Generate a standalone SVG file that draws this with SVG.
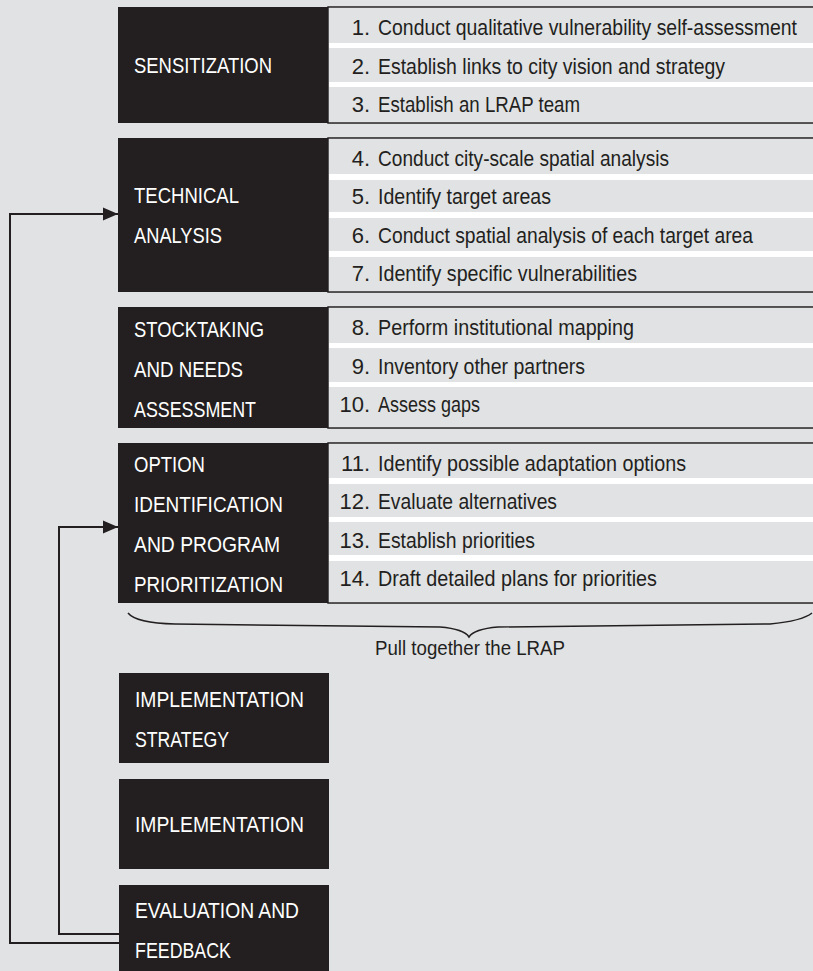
<svg xmlns="http://www.w3.org/2000/svg" width="813" height="971" viewBox="0 0 813 971">
<style>
  .bg { fill: #e1e2e4; }
  .dark { fill: #231f20; }
  .list { fill: #ffffff; stroke: #231f20; stroke-width: 1.5; }
  .row { fill: #e1e2e4; }
  .lbl { font-family: 'Liberation Sans Narrow', 'Liberation Sans', Arial, sans-serif; font-size: 22px; fill: #ffffff; }
  .num { font-family: 'Liberation Sans Narrow', 'Liberation Sans', Arial, sans-serif; font-size: 22px; fill: #231f20; text-anchor: end; }
  .txt { font-family: 'Liberation Sans Narrow', 'Liberation Sans', Arial, sans-serif; font-size: 22px; fill: #231f20; }
  .cap { font-family: 'Liberation Sans Narrow', 'Liberation Sans', Arial, sans-serif; font-size: 21px; fill: #231f20; }
  .conn { fill: none; stroke: #231f20; stroke-width: 2; }
  .brace { fill: none; stroke: #231f20; stroke-width: 1.5; }
</style>
<defs>
  <marker id="arr" markerWidth="16" markerHeight="14" refX="15" refY="7" orient="auto" markerUnits="userSpaceOnUse">
    <path d="M0,0.5 L15,7 L0,13.5 Z" fill="#231f20"/>
  </marker>
</defs>
<rect class="bg" x="0" y="0" width="813" height="971"/>

<g id="sensitization">
  <rect class="dark" x="118" y="7" width="210" height="116"/>
  <text class="lbl" x="134" y="73" textLength="138" lengthAdjust="spacingAndGlyphs">SENSITIZATION</text>
  <rect class="list" x="328" y="7" width="492" height="116"/>
  <rect class="row" x="329" y="8" width="490" height="35"/>
  <rect class="row" x="329" y="48" width="490" height="34"/>
  <rect class="row" x="329" y="87" width="490" height="35"/>
  <text class="num" x="370" y="35">1.</text>
  <text class="txt" x="378" y="35" textLength="419" lengthAdjust="spacingAndGlyphs">Conduct qualitative vulnerability self-assessment</text>
  <text class="num" x="370" y="74">2.</text>
  <text class="txt" x="378" y="74" textLength="347" lengthAdjust="spacingAndGlyphs">Establish links to city vision and strategy</text>
  <text class="num" x="370" y="112">3.</text>
  <text class="txt" x="378" y="112" textLength="202" lengthAdjust="spacingAndGlyphs">Establish an LRAP team</text>
</g>

<g id="technical-analysis">
  <rect class="dark" x="118" y="138" width="210" height="154"/>
  <text class="lbl" x="134" y="203" textLength="105" lengthAdjust="spacingAndGlyphs">TECHNICAL</text>
  <text class="lbl" x="134" y="243" textLength="88" lengthAdjust="spacingAndGlyphs">ANALYSIS</text>
  <rect class="list" x="328" y="138" width="492" height="154"/>
  <rect class="row" x="329" y="139" width="490" height="35"/>
  <rect class="row" x="329" y="180" width="490" height="32"/>
  <rect class="row" x="329" y="218" width="490" height="33"/>
  <rect class="row" x="329" y="257" width="490" height="34"/>
  <text class="num" x="370" y="166">4.</text>
  <text class="txt" x="378" y="166" textLength="291" lengthAdjust="spacingAndGlyphs">Conduct city-scale spatial analysis</text>
  <text class="num" x="370" y="204">5.</text>
  <text class="txt" x="378" y="204" textLength="173" lengthAdjust="spacingAndGlyphs">Identify target areas</text>
  <text class="num" x="370" y="243">6.</text>
  <text class="txt" x="378" y="243" textLength="375" lengthAdjust="spacingAndGlyphs">Conduct spatial analysis of each target area</text>
  <text class="num" x="370" y="281">7.</text>
  <text class="txt" x="378" y="281" textLength="259" lengthAdjust="spacingAndGlyphs">Identify specific vulnerabilities</text>
</g>

<g id="stocktaking">
  <rect class="dark" x="118" y="307" width="210" height="121"/>
  <text class="lbl" x="134" y="337" textLength="130" lengthAdjust="spacingAndGlyphs">STOCKTAKING</text>
  <text class="lbl" x="134" y="377" textLength="109" lengthAdjust="spacingAndGlyphs">AND NEEDS</text>
  <text class="lbl" x="134" y="417" textLength="122" lengthAdjust="spacingAndGlyphs">ASSESSMENT</text>
  <rect class="list" x="328" y="307" width="492" height="121"/>
  <rect class="row" x="329" y="308" width="490" height="35"/>
  <rect class="row" x="329" y="348" width="490" height="34"/>
  <rect class="row" x="329" y="387" width="490" height="40"/>
  <text class="num" x="370" y="335">8.</text>
  <text class="txt" x="378" y="335" textLength="256" lengthAdjust="spacingAndGlyphs">Perform institutional mapping</text>
  <text class="num" x="370" y="374">9.</text>
  <text class="txt" x="378" y="374" textLength="207" lengthAdjust="spacingAndGlyphs">Inventory other partners</text>
  <text class="num" x="370" y="412">10.</text>
  <text class="txt" x="378" y="412" textLength="102" lengthAdjust="spacingAndGlyphs">Assess gaps</text>
</g>

<g id="option-identification">
  <rect class="dark" x="118" y="443" width="210" height="160"/>
  <text class="lbl" x="134" y="472" textLength="71" lengthAdjust="spacingAndGlyphs">OPTION</text>
  <text class="lbl" x="134" y="512" textLength="149" lengthAdjust="spacingAndGlyphs">IDENTIFICATION</text>
  <text class="lbl" x="134" y="552" textLength="146" lengthAdjust="spacingAndGlyphs">AND PROGRAM</text>
  <text class="lbl" x="134" y="592" textLength="149" lengthAdjust="spacingAndGlyphs">PRIORITIZATION</text>
  <rect class="list" x="328" y="443" width="492" height="160"/>
  <rect class="row" x="329" y="444" width="490" height="34"/>
  <rect class="row" x="329" y="484" width="490" height="33"/>
  <rect class="row" x="329" y="522" width="490" height="33"/>
  <rect class="row" x="329" y="561" width="490" height="41"/>
  <text class="num" x="370" y="471">11.</text>
  <text class="txt" x="378" y="471" textLength="308" lengthAdjust="spacingAndGlyphs">Identify possible adaptation options</text>
  <text class="num" x="370" y="509">12.</text>
  <text class="txt" x="378" y="509" textLength="179" lengthAdjust="spacingAndGlyphs">Evaluate alternatives</text>
  <text class="num" x="370" y="548">13.</text>
  <text class="txt" x="378" y="548" textLength="157" lengthAdjust="spacingAndGlyphs">Establish priorities</text>
  <text class="num" x="370" y="586">14.</text>
  <text class="txt" x="378" y="586" textLength="279" lengthAdjust="spacingAndGlyphs">Draft detailed plans for priorities</text>
</g>

<g id="lrap-brace">
  <path class="brace" d="M128,613 Q136,623 175,624 L440,627 Q464,629 469,637 Q474,629 498,627 L770,624 Q802,621 812,613"/>
  <text class="cap" x="375" y="655" textLength="190" lengthAdjust="spacingAndGlyphs">Pull together the LRAP</text>
</g>

<g id="implementation-strategy">
  <rect class="dark" x="119" y="673" width="210" height="90"/>
  <text class="lbl" x="135" y="707" textLength="169" lengthAdjust="spacingAndGlyphs">IMPLEMENTATION</text>
  <text class="lbl" x="135" y="747" textLength="94" lengthAdjust="spacingAndGlyphs">STRATEGY</text>
</g>

<g id="implementation">
  <rect class="dark" x="119" y="779" width="210" height="90"/>
  <text class="lbl" x="135" y="832" textLength="169" lengthAdjust="spacingAndGlyphs">IMPLEMENTATION</text>
</g>

<g id="evaluation-feedback">
  <rect class="dark" x="119" y="885" width="210" height="86"/>
  <text class="lbl" x="135" y="918" textLength="164" lengthAdjust="spacingAndGlyphs">EVALUATION AND</text>
  <text class="lbl" x="135" y="958" textLength="96" lengthAdjust="spacingAndGlyphs">FEEDBACK</text>
</g>

<g id="connectors">
  <path class="conn" d="M119,943 H10 V214 H118" marker-end="url(#arr)"/>
  <path class="conn" d="M119,934 H59 V527 H118" marker-end="url(#arr)"/>
</g>
</svg>
